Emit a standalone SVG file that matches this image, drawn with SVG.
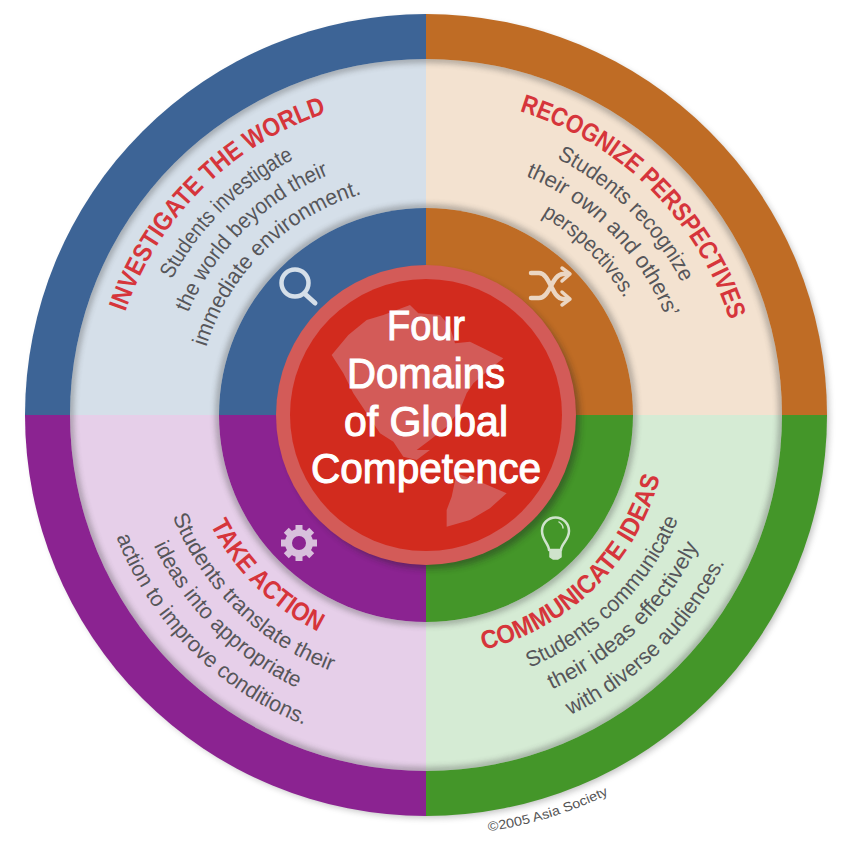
<svg xmlns="http://www.w3.org/2000/svg" xmlns:xlink="http://www.w3.org/1999/xlink" width="854" height="852" viewBox="0 0 854 852">
<style>
text{font-family:"Liberation Sans",Arial,sans-serif}
.t{font-size:26px;font-weight:bold;fill:#D6353B}
.b{font-size:22px;fill:#56565A}
.c{font-size:42px;fill:#fff;stroke:#fff;stroke-width:1.100px;text-anchor:middle}
.ic{fill:none;stroke-linecap:round;stroke-linejoin:round}
</style>
<defs>
<path id="u318" d="M108,415A318,318 0 0 1 744,415"/>
<path id="u288" d="M138,415A288,288 0 0 1 714,415"/>
<path id="u259" d="M167,415A259,259 0 0 1 685,415"/>
<path id="u230" d="M196,415A230,230 0 0 1 656,415"/>
<path id="l242" d="M184,415A242,242 0 0 0 668,415"/>
<path id="l273" d="M153,415A273,273 0 0 0 699,415"/>
<path id="l302" d="M124,415A302,302 0 0 0 728,415"/>
<path id="l333" d="M93,415A333,333 0 0 0 759,415"/>
<path id="l421" d="M5,415A421,421 0 0 0 847,415"/>
<filter id="b3" x="-20%" y="-20%" width="140%" height="140%"><feGaussianBlur stdDeviation="3"/></filter>
<filter id="b5" x="-20%" y="-20%" width="140%" height="140%"><feGaussianBlur stdDeviation="5"/></filter>
<clipPath id="ring"><path clip-rule="evenodd" d="M70,415a356,356 0 1 0 712,0a356,356 0 1 0 -712,0ZM219,415a207,207 0 1 0 414,0a207,207 0 1 0 -414,0Z"/></clipPath>
<clipPath id="inner"><circle cx="426" cy="415" r="207"/></clipPath>
</defs>
<circle cx="429" cy="418" r="400" fill="#555" opacity=".35" filter="url(#b3)"/>
<g id="quadrants">
<path fill="#3D6496" d="M426,415V14A401,401 0 0 0 25,415Z"/>
<path fill="#BF6C25" d="M426,415V14A401,401 0 0 1 827,415Z"/>
<path fill="#449629" d="M426,415V816A401,401 0 0 0 827,415Z"/>
<path fill="#8B2391" d="M426,415V816A401,401 0 0 1 25,415Z"/>
</g>
<g id="pale-ring">
<path fill="#D5DFE9" d="M426,415V59A356,356 0 0 0 70,415Z"/>
<path fill="#F3E2D0" d="M426,415V59A356,356 0 0 1 782,415Z"/>
<path fill="#D5EBD4" d="M426,415V771A356,356 0 0 0 782,415Z"/>
<path fill="#E6CFE9" d="M426,415V771A356,356 0 0 1 70,415Z"/>
</g>
<g id="inner-quadrants">
<path fill="#3D6496" d="M426,415V208A207,207 0 0 0 219,415Z"/>
<path fill="#BF6C25" d="M426,415V208A207,207 0 0 1 633,415Z"/>
<path fill="#449629" d="M426,415V622A207,207 0 0 0 633,415Z"/>
<path fill="#8B2391" d="M426,415V622A207,207 0 0 1 219,415Z"/>
</g>
<g clip-path="url(#ring)" fill="none" stroke="#444" opacity=".45">
<circle cx="426" cy="415" r="356" stroke-width="6" filter="url(#b3)"/>
<circle cx="426" cy="415" r="207" stroke-width="6" filter="url(#b3)"/>
</g>
<g clip-path="url(#inner)"><circle cx="431" cy="420" r="149" fill="#222" opacity=".4" filter="url(#b3)"/></g>
<g id="investigate-the-world">
<text class="t" textLength="293" lengthAdjust="spacingAndGlyphs"><textPath xlink:href="#u318" href="#u318" startOffset="105">INVESTIGATE THE WORLD</textPath></text>
<text class="b" textLength="174" lengthAdjust="spacingAndGlyphs"><textPath xlink:href="#u288" href="#u288" startOffset="141">Students investigate</textPath></text>
<text class="b" textLength="202" lengthAdjust="spacingAndGlyphs"><textPath xlink:href="#u259" href="#u259" startOffset="105">the world beyond their</textPath></text>
<text class="b" textLength="227" lengthAdjust="spacingAndGlyphs"><textPath xlink:href="#u230" href="#u230" startOffset="69">immediate environment.</textPath></text>
<g class="ic" stroke="#D5DFE9"><circle cx="295" cy="283" r="13.500" stroke-width="4.500"/><path d="M305,294L315,303" stroke-width="5"/></g>
</g>
<g id="recognize-perspectives">
<text class="t" textLength="308" lengthAdjust="spacingAndGlyphs"><textPath xlink:href="#u318" href="#u318" startOffset="594">RECOGNIZE PERSPECTIVES</textPath></text>
<text class="b" textLength="179" lengthAdjust="spacingAndGlyphs"><textPath xlink:href="#u288" href="#u288" startOffset="588">Students recognize</textPath></text>
<text class="b" textLength="205" lengthAdjust="spacingAndGlyphs"><textPath xlink:href="#u259" href="#u259" startOffset="509">their own and others’</textPath></text>
<text class="b" textLength="118" lengthAdjust="spacingAndGlyphs"><textPath xlink:href="#u230" href="#u230" startOffset="482">perspectives.</textPath></text>
<g class="ic" stroke="#EBD6C2" stroke-width="4.500"><path d="M531,273H539C550,273 552,299 563,299H568M531,298H539C550,298 552,274 563,274H568"/><path d="M562,268L570,274L562,281M562,292L570,299L562,305" stroke-width="3.500"/></g>
</g>
<g id="take-action">
<text class="t" textLength="154" lengthAdjust="spacingAndGlyphs"><textPath xlink:href="#l242" href="#l242" startOffset="114">TAKE ACTION</textPath></text>
<text class="b" textLength="228" lengthAdjust="spacingAndGlyphs"><textPath xlink:href="#l273" href="#l273" startOffset="104">Students translate their</textPath></text>
<text class="b" textLength="206" lengthAdjust="spacingAndGlyphs"><textPath xlink:href="#l302" href="#l302" startOffset="135">ideas into appropriate</textPath></text>
<text class="b" textLength="273" lengthAdjust="spacingAndGlyphs"><textPath xlink:href="#l333" href="#l333" startOffset="125">action to improve conditions.</textPath></text>
<g transform="translate(299,543)"><circle r="10.500" fill="none" stroke="#D8C0DC" stroke-width="7"/><g fill="#D8C0DC"><rect x="-3.500" y="-18" width="7" height="6"/><rect x="-3.500" y="-18" width="7" height="6" transform="rotate(45)"/><rect x="-3.500" y="-18" width="7" height="6" transform="rotate(90)"/><rect x="-3.500" y="-18" width="7" height="6" transform="rotate(135)"/><rect x="-3.500" y="-18" width="7" height="6" transform="rotate(180)"/><rect x="-3.500" y="-18" width="7" height="6" transform="rotate(225)"/><rect x="-3.500" y="-18" width="7" height="6" transform="rotate(270)"/><rect x="-3.500" y="-18" width="7" height="6" transform="rotate(315)"/></g></g>
</g>
<g id="communicate-ideas">
<text class="t" textLength="259" lengthAdjust="spacingAndGlyphs"><textPath xlink:href="#l242" href="#l242" startOffset="438">COMMUNICATE IDEAS</textPath></text>
<text class="b" textLength="215" lengthAdjust="spacingAndGlyphs"><textPath xlink:href="#l273" href="#l273" startOffset="535">Students communicate</textPath></text>
<text class="b" textLength="209" lengthAdjust="spacingAndGlyphs"><textPath xlink:href="#l302" href="#l302" startOffset="604">their ideas effectively</textPath></text>
<text class="b" textLength="221" lengthAdjust="spacingAndGlyphs"><textPath xlink:href="#l333" href="#l333" startOffset="672">with diverse audiences.</textPath></text>
<g class="ic" stroke="#CFE3CC"><path d="M549,550C549,544 542,540 542,531A13.500,13.500 0 0 1 569,531C569,540 561,544 561,550Z" stroke-width="2.500"/><path d="M559,522C562,524 563,526 563,528" stroke-width="1.500"/><path d="M550,551H561V557L558,559H553L550,557Z" fill="#CFE3CC" stroke-width="1.500"/></g>
</g>
<g id="centre">
<circle cx="426" cy="415" r="150" fill="#D35B58"/>
<circle cx="426" cy="415" r="136" fill="#D22B1E"/>
<g transform="translate(270,260) scale(.3333)" fill="#D35B58">
<path d="M185,285L235,225L290,180L340,165L420,135L445,160L510,165L540,200L555,250L600,245L640,265L700,295L650,335L610,370L590,400L570,450L530,500L480,540L440,570L480,570L440,600L400,590L370,545L330,520L290,460L250,400L220,340Z"/>
<path d="M560,640L640,670L710,700L660,745L600,780L530,800L530,750L545,710Z"/>
</g>
<text class="c" x="426" y="340" textLength="78" lengthAdjust="spacingAndGlyphs">Four</text>
<text class="c" x="426" y="388" textLength="158" lengthAdjust="spacingAndGlyphs">Domains</text>
<text class="c" x="426" y="436" textLength="164" lengthAdjust="spacingAndGlyphs">of Global</text>
<text class="c" x="426" y="483" textLength="230" lengthAdjust="spacingAndGlyphs">Competence</text>
</g>
<text font-size="13" fill="#555" textLength="126" lengthAdjust="spacingAndGlyphs"><textPath xlink:href="#l421" href="#l421" startOffset="724">©2005 Asia Society</textPath></text>
</svg>
